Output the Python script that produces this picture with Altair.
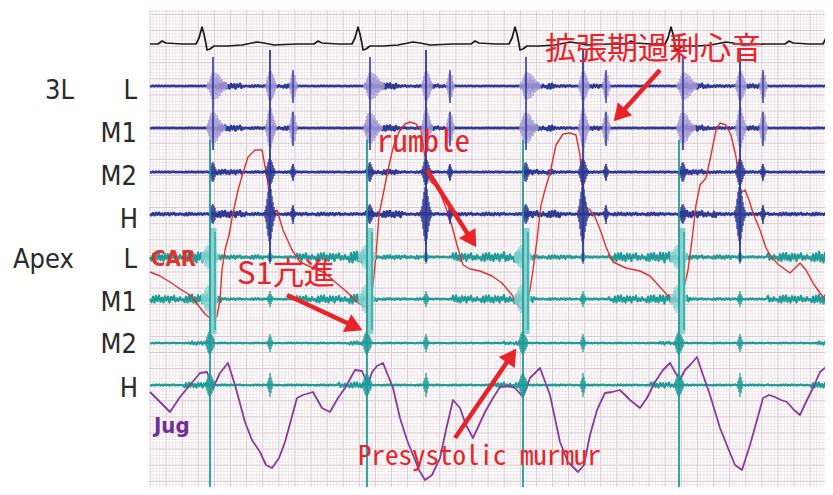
import math
import altair as alt
import pandas as pd

# ---------------- values read from the recording (x = time, y = trace level) ----------------
R_PEAKS = [202, 358, 515, 671, 829]          # ECG R waves
S1_3L = [213, 370, 526, 683]                 # first sound at 3L
S2_T = [270, 426, 583, 740]                  # second sound
OS_T = [293, 450, 606, 763]                  # diastolic extra sound
S1_APEX = [210, 367, 523, 679]               # loud S1 at apex

# ECG shape around each R wave
ECG_DT = [-44, -40, -36, -20, -6, -3, 0, 2, 4, 5, 8, 12, 25, 40, 50, 55, 62, 72, 95, 112]
ECG_V = [44, 41, 43, 44, 44, 38, 27, 34, 44, 50, 49, 46, 46, 45, 43, 42, 43, 45, 44, 44]

# carotid pulse (CAR)
CAR_T = [150, 160, 170, 180, 190, 198, 205, 210, 214, 217, 220, 222, 225, 229, 233, 238, 243, 248, 255, 262,
         267, 270, 273, 277, 283, 292, 300, 313, 325, 335, 347, 357, 363, 367, 370, 373, 376, 379, 383, 388,
         393, 399, 405, 410, 416, 421, 424, 427, 431, 436, 441, 446, 452, 457, 463, 470, 480, 492, 502, 512,
         518, 522, 526, 530, 533, 537, 541, 545, 550, 556, 563, 570, 576, 580, 583, 586, 590, 595, 601, 606,
         613, 626, 640, 650, 660, 668, 676, 680, 684, 688, 692, 696, 700, 706, 711, 716, 720, 726, 731, 736,
         741, 745, 749, 753, 760, 766, 772, 779, 790, 800, 806, 813, 820, 826, 833]
CAR_V = [272, 276, 282, 289, 295, 305, 314, 318, 320, 316, 300, 270, 250, 235, 213, 190, 173, 157, 150, 150,
         177, 200, 213, 210, 230, 250, 262, 268, 273, 282, 292, 302, 306, 307, 303, 285, 255, 215, 195, 170,
         148, 132, 124, 122, 124, 130, 150, 172, 182, 186, 195, 208, 226, 245, 265, 269, 271, 276, 283, 295,
         305, 309, 305, 290, 270, 240, 205, 190, 173, 145, 134, 133, 135, 155, 195, 207, 210, 217, 232, 247,
         262, 268, 271, 276, 287, 296, 302, 298, 288, 270, 240, 205, 185, 178, 155, 130, 123, 125, 135, 157,
         193, 190, 200, 213, 230, 248, 258, 265, 273, 263, 270, 283, 293, 300, 302]

# jugular pulse (Jug)
JUG_T = [150, 160, 170, 180, 190, 200, 207, 213, 220, 228, 235, 245, 252, 260, 266, 272, 279, 285, 291, 297,
         303, 313, 322, 330, 338, 345, 355, 362, 368, 372, 377, 383, 393, 400, 407, 413, 419, 425, 432, 440,
         446, 453, 460, 466, 473, 479, 485, 493, 500, 508, 515, 523, 530, 540, 550, 560, 568, 578, 584, 590,
         597, 605, 612, 620, 630, 640, 647, 655, 663, 670, 675, 680, 685, 690, 697, 703, 710, 720, 728, 735,
         742, 750, 757, 763, 769, 775, 781, 787, 794, 800, 807, 813, 820, 826, 833]
JUG_V = [392, 402, 412, 397, 385, 373, 372, 388, 373, 363, 385, 422, 440, 452, 465, 468, 458, 442, 420, 398,
         395, 392, 408, 412, 398, 388, 370, 371, 385, 372, 366, 363, 388, 418, 440, 455, 470, 480, 475, 458,
         430, 400, 408, 425, 438, 425, 412, 398, 387, 386, 388, 397, 378, 368, 395, 442, 462, 472, 465, 435,
         410, 393, 392, 390, 400, 408, 398, 382, 370, 363, 372, 380, 370, 365, 357, 375, 395, 428, 448, 465,
         470, 445, 420, 398, 395, 397, 400, 402, 410, 415, 400, 388, 372, 367, 365]

# channels
CHANNELS = ["3L L", "3L M1", "3L M2", "3L H", "Apex L", "Apex M1", "Apex M2", "Apex H"]
CH_BASE = [86, 128, 172, 214, 257, 299, 343, 385]

# low level vibration (murmur / rumble) amplitude per part of the cycle, relative to the R wave
NOISE_PATTERN = [0.0, 0.9, -0.7, 1.0, -0.9, 0.6, -1.0, 0.8, -0.4, 1.0, -0.8, 0.5, -0.7, 1.0, -0.6, 0.3, -0.9, 0.7,
                 -0.2, 0.6, -0.5, 0.4]
CH_NOISE = {
    "3L L": [(-62, 8, 0.4), (8, 40, 2.5), (40, 66, 0.8), (66, 94, 1.6)],
    "3L M1": [(-62, 8, 0.4), (8, 40, 2.5), (40, 66, 0.8), (66, 94, 1.6)],
    "3L M2": [(-62, 8, 0.5), (8, 40, 2.0), (40, 94, 0.7)],
    "3L H": [(-62, -10, 1.2), (-10, 8, 0.8), (8, 45, 3.0), (45, 94, 1.0)],
    "Apex L": [(-62, -12, 4.0), (-12, 6, 5.5), (6, 20, 2.5), (20, 62, 1.8), (62, 94, 0.8)],
    "Apex M1": [(-62, -12, 3.5), (-12, 6, 4.5), (6, 20, 3.0), (20, 62, 0.9), (62, 94, 0.7)],
    "Apex M2": [(-62, -12, 0.5), (-12, 6, 1.5), (6, 94, 0.5)],
    "Apex H": [(-62, -20, 0.7), (-20, 6, 2.5), (6, 94, 0.7)],
}

# heart-sound bursts: (channel, event, first offset, half amplitudes, colour key)
BURSTS = [
    ("3L L", "S1", -6, [2, 4, 3, 7, 10, 13, 9, 14, 8, 13, 9, 12, 6, 10, 6, 7, 4, 5, 3, 4, 2], "lav"),
    ("3L L", "S2", -4, [3, 6, 10, 14, 9, 15, 13, 11, 8, 5, 3], "lav"),
    ("3L L", "OS", -3, [4, 8, 12, 14, 9, 11, 5, 3], "lav"),
    ("3L M1", "S1", -6, [3, 5, 8, 12, 15, 10, 16, 12, 15, 9, 13, 10, 7, 8, 4, 5, 3, 3, 2], "lav"),
    ("3L M1", "S2", -4, [4, 8, 14, 18, 12, 20, 15, 12, 8, 5, 3], "lav"),
    ("3L M1", "OS", -3, [5, 10, 15, 17, 11, 13, 6, 3], "lav"),
    ("3L M2", "S1", -3, [3, 6, 9, 10, 8, 5, 3], "blue"),
    ("3L M2", "S2", -4, [3, 6, 10, 13, 14, 12, 10, 7, 4, 2], "blue"),
    ("3L M2", "OS", -2, [3, 6, 8, 5, 3], "blue"),
    ("3L H", "S1", -3, [3, 7, 9, 10, 8, 6, 3], "blue"),
    ("3L H", "S2", -5, [4, 8, 15, 22, 27, 30, 25, 18, 12, 7, 4], "blue"),
    ("3L H", "OS", -2, [3, 6, 8, 5, 3], "blue"),
    ("Apex L", "S1A", -8, [4, 6, 5, 8, 10, 7, 12, 9, 12, 8, 10, 6, 8, 5, 6, 4, 3], "lteal"),
    ("Apex L", "S2", -2, [2, 4, 7, 4, 2], "teal"),
    ("Apex M1", "S1A", -8, [4, 6, 5, 9, 12, 8, 14, 10, 13, 9, 11, 7, 8, 5, 4, 3], "lteal"),
    ("Apex M1", "S2", -2, [3, 5, 8, 5, 3], "teal"),
    ("Apex M2", "S1A", -4, [3, 6, 9, 11, 12, 10, 8, 6, 4], "teal"),
    ("Apex M2", "S2", -2, [3, 6, 9, 6, 3], "teal"),
    ("Apex H", "S1A", -4, [3, 6, 9, 11, 12, 10, 8, 6, 4], "teal"),
    ("Apex H", "S2", -2, [4, 7, 12, 8, 4], "teal"),
]

# long vertical deflections: (event, offset, top, bottom, colour key, width)
SPIKES = [
    ("S1", 0, 57, 150, "blue", 1.6),
    ("S2", 0, 50, 262, "blue", 1.8),
    ("OS", 0, 70, 103, "blue", 1.4),
    ("OS", 0, 112, 146, "blue", 1.4),
    ("OS", 0, 164, 181, "blue", 1.4),
    ("OS", 0, 205, 224, "blue", 1.4),
    ("S1A", 3, 228, 334, "lteal", 7.0),
    ("S1A", 0, 140, 495, "teal", 1.8),
    ("S1A", 5, 232, 330, "teal", 1.2),
]

LABELS = ["3L", "L", "M1", "M2", "H", "Apex", "L", "M1", "M2", "H"]
LABEL_X = [45, 137, 137, 137, 138, 13, 137, 137, 137, 138]
LABEL_Y = [99, 99, 142, 185, 228, 268, 268, 311, 353, 397]
LABEL_ALIGN = ["left", "right", "right", "right", "right", "left", "right", "right", "right", "right"]

NOTES = ["拡張期過剰心音", "S1亢進"]
NOTE_X = [545, 237]
NOTE_Y = [59, 284]
MONO_NOTES = ["rumble", "Presystolic murmur"]
MONO_X = [377, 358]
MONO_Y = [152, 465]
MONO_SIZE = [31, 27]

ARROW_FROM = [(660, 70), (427, 170), (287, 295), (455, 438)]
ARROW_TO = [(614, 121), (476, 247), (362, 330), (516, 349)]

# ---------------- styling ----------------
COL = {"blue": "#2d3a94", "lav": "#a296d4", "teal": "#1f9c98", "lteal": "#86d2ce",
       "ecg": "#1c1c1c", "car": "#e0322c", "jug": "#8a3a9c", "red": "#e8232a", "jugtxt": "#6e2f96"}
W, H = 817, 479
X0, Y0 = 8, 8
xs = alt.Scale(domain=[X0, X0 + W], nice=False, zero=False)
ys = alt.Scale(domain=[Y0, Y0 + H], nice=False, zero=False, reverse=True)
EVENTS = {"S1": S1_3L, "S2": S2_T, "OS": OS_T, "S1A": S1_APEX}

# grid
grid = []
i = 0
while 150 + i * 3.22 <= 834:
    gx = 150 + i * 3.22
    grid.append(dict(x=gx, x2=gx, y=10, y2=495, c="#d9c9d0" if i % 5 == 0 else "#efe6ea", w=1))
    i += 1
j = 0
while 11.18 + j * 3.22 <= 495:
    gy = 11.18 + j * 3.22
    grid.append(dict(x=150, x2=834, y=gy, y2=gy, c="#d9c9d0" if (j - 1) % 5 == 0 else "#efe6ea", w=1))
    j += 1
grid_df = pd.DataFrame(grid)
grid_df["o"] = grid_df["c"].map({"#efe6ea": 0, "#d9c9d0": 1})
grid_df = grid_df.sort_values("o")

# lines
rows = []
k = 0
rows.append(dict(t=150, v=44, s="ecg", i=k, c=COL["ecg"], w=1.7)); k += 1
for r in R_PEAKS:
    for dt, v in zip(ECG_DT, ECG_V):
        if 150 < r + dt <= 845:
            rows.append(dict(t=r + dt, v=v, s="ecg", i=k, c=COL["ecg"], w=1.7)); k += 1
for ch, base in zip(CHANNELS, CH_BASE):
    col = COL["blue"] if ch.startswith("3L") else COL["teal"]
    wid = 2.6 if ch.startswith("3L") else 2.2
    n = 0
    x = 150.0
    while x <= 834:
        amp = 0.0
        for r in R_PEAKS:
            for a, b, am in CH_NOISE[ch]:
                if a <= x - r < b:
                    amp = am
        v = base + amp * NOISE_PATTERN[n % len(NOISE_PATTERN)]
        rows.append(dict(t=x, v=v, s=ch, i=n, c=col, w=wid))
        n += 1
        x += 1.5
base_lines = pd.DataFrame(rows)

pulse = pd.DataFrame(
    [dict(t=t, v=v, s="car", i=n, c=COL["car"], w=1.4) for n, (t, v) in enumerate(zip(CAR_T, CAR_V))]
    + [dict(t=t, v=v, s="jug", i=n, c=COL["jug"], w=1.8) for n, (t, v) in enumerate(zip(JUG_T, JUG_V))]
)

brows = []
for ch, ev, off, amps, ck in BURSTS:
    base = CH_BASE[CHANNELS.index(ch)]
    for t0 in EVENTS[ev]:
        for m, a in enumerate(amps):
            brows.append(dict(t=t0 + off + m, y=base - a, y2=base + a, c=COL[ck], w=1.3))
for ev, off, top, bot, ck, wd in SPIKES:
    for t0 in EVENTS[ev]:
        brows.append(dict(t=t0 + off, y=top, y2=bot, c=COL[ck], w=wd))
bursts_df = pd.DataFrame(brows)


def line_layer(df):
    return alt.Chart(df).mark_line(clip=True, strokeJoin="round").encode(
        x=alt.X("t:Q", scale=xs, axis=None),
        y=alt.Y("v:Q", scale=ys, axis=None),
        detail="s:N",
        order="i:Q",
        color=alt.Color("c:N", scale=None),
        strokeWidth=alt.StrokeWidth("w:Q", scale=None),
    )


grid_layer = alt.Chart(grid_df).mark_rule(clip=True).encode(
    x=alt.X("x:Q", scale=xs, axis=None), x2="x2:Q",
    y=alt.Y("y:Q", scale=ys, axis=None), y2="y2:Q",
    color=alt.Color("c:N", scale=None),
    strokeWidth=alt.StrokeWidth("w:Q", scale=None),
)

burst_layer = alt.Chart(bursts_df).mark_rule(clip=True).encode(
    x=alt.X("t:Q", scale=xs, axis=None),
    y=alt.Y("y:Q", scale=ys, axis=None), y2="y2:Q",
    color=alt.Color("c:N", scale=None),
    strokeWidth=alt.StrokeWidth("w:Q", scale=None),
)

ecg_df = base_lines[base_lines.s == "ecg"]
chan_df = base_lines[base_lines.s != "ecg"]

lab_df = pd.DataFrame(dict(txt=LABELS, x=LABEL_X, y=LABEL_Y, al=LABEL_ALIGN))
label_font = "Liberation Sans Narrow, Arial Narrow, DejaVu Sans Condensed, Roboto Condensed, sans-serif"
lab_layers = []
for al in ["left", "right"]:
    lab_layers.append(
        alt.Chart(lab_df[lab_df.al == al]).mark_text(
            align=al, baseline="alphabetic", font=label_font, fontSize=27, color="#2a2a2a"
        ).encode(x=alt.X("x:Q", scale=xs, axis=None), y=alt.Y("y:Q", scale=ys, axis=None), text="txt:N")
    )

small_df = pd.DataFrame(dict(txt=["CAR", "Jug"], x=[151, 154], y=[266, 433],
                             c=[COL["car"], COL["jugtxt"]]))
small_layer = alt.Chart(small_df).mark_text(
    align="left", baseline="alphabetic", font=label_font, fontSize=22, fontWeight="bold"
).encode(x=alt.X("x:Q", scale=xs, axis=None), y=alt.Y("y:Q", scale=ys, axis=None), text="txt:N",
         color=alt.Color("c:N", scale=None))

note_df = pd.DataFrame(dict(txt=NOTES, x=NOTE_X, y=NOTE_Y))
note_layer = alt.Chart(note_df).mark_text(
    align="left", baseline="alphabetic", font="Noto Sans CJK JP, sans-serif", fontSize=31, color=COL["red"]
).encode(x=alt.X("x:Q", scale=xs, axis=None), y=alt.Y("y:Q", scale=ys, axis=None), text="txt:N")

mono_df = pd.DataFrame(dict(txt=MONO_NOTES, x=MONO_X, y=MONO_Y, fs=MONO_SIZE))
mono_layer = alt.Chart(mono_df).mark_text(
    align="left", baseline="alphabetic", font="Noto Sans Mono CJK JP, DejaVu Sans Mono, monospace",
    color=COL["red"]
).encode(x=alt.X("x:Q", scale=xs, axis=None), y=alt.Y("y:Q", scale=ys, axis=None), text="txt:N",
         size=alt.Size("fs:Q", scale=None))

arows, hrows = [], []
for (x0, y0), (x1, y1) in zip(ARROW_FROM, ARROW_TO):
    L = math.hypot(x1 - x0, y1 - y0)
    ux, uy = (x1 - x0) / L, (y1 - y0) / L
    arows.append(dict(x=x0, y=y0, x2=x1 - 10 * ux, y2=y1 - 10 * uy))
    ang = math.degrees(math.atan2(ux, -uy)) % 360
    hrows.append(dict(x=x1 - 8 * ux, y=y1 - 8 * uy, a=ang))
arrow_df = pd.DataFrame(arows)
head_df = pd.DataFrame(hrows)
arrow_layer = alt.Chart(arrow_df).mark_rule(color=COL["red"], strokeWidth=4.5).encode(
    x=alt.X("x:Q", scale=xs, axis=None), x2="x2:Q",
    y=alt.Y("y:Q", scale=ys, axis=None), y2="y2:Q",
)
head_layer = alt.Chart(head_df).mark_point(
    shape="triangle-up", filled=True, size=380, color=COL["red"], opacity=1, strokeWidth=0
).encode(
    x=alt.X("x:Q", scale=xs, axis=None), y=alt.Y("y:Q", scale=ys, axis=None),
    angle=alt.Angle("a:Q", scale=None),
)

chart = alt.layer(
    grid_layer,
    line_layer(chan_df),
    line_layer(pulse),
    burst_layer,
    line_layer(ecg_df),
    *lab_layers,
    small_layer,
    note_layer,
    mono_layer,
    arrow_layer,
    head_layer,
).properties(
    width=W, height=H, padding=0, autosize="none", background="white"
).configure_view(stroke=None)

chart.save("out.html", embed_options={"renderer": "svg", "actions": False})
